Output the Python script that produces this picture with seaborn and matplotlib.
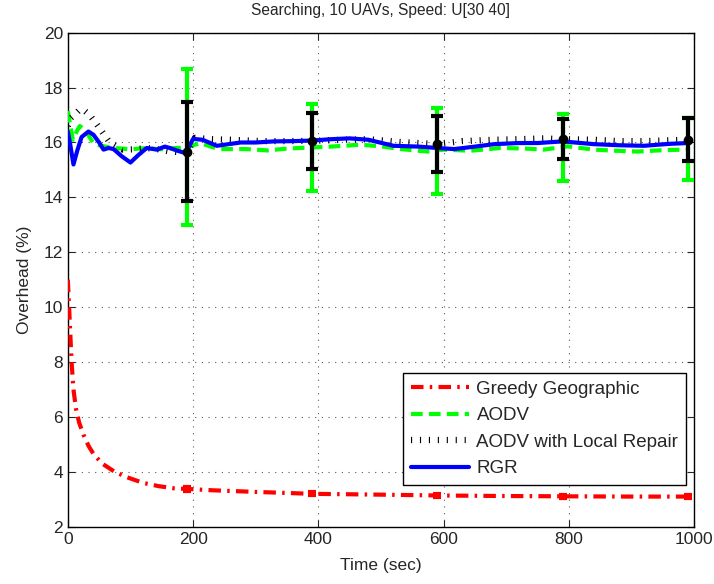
import seaborn as sns
import pandas as pd
import matplotlib.pyplot as plt

# Greedy Geographic
t_greedy = [0, 2, 4, 6, 9, 13, 18, 25, 33, 41, 55, 75, 95, 120, 145, 170, 190, 230, 300,
            390, 500, 590, 700, 790, 900, 990]
y_greedy = [11.0, 10.0, 9.0, 8.0, 7.0, 6.3, 5.8, 5.35, 4.95, 4.65, 4.3, 4.0, 3.8, 3.6, 3.48,
            3.4, 3.38, 3.33, 3.27, 3.2, 3.17, 3.14, 3.12, 3.11, 3.1, 3.1]

# AODV
t_aodv = [0, 4, 8, 14, 19, 25, 32, 40, 50, 60, 70, 85, 100, 115, 130, 145, 160, 175, 190,
          200, 212, 228, 244, 264, 284, 300, 319, 350, 390, 420, 467, 500, 532, 574, 600,
          643, 691, 730, 760, 798, 840, 875, 909, 950, 983, 990]
y_aodv = [17.15, 16.6, 16.1, 16.4, 16.6, 16.5, 16.3, 16.0, 15.9, 15.85, 15.8, 15.78, 15.75,
          15.78, 15.8, 15.75, 15.78, 15.8, 15.82, 15.9, 15.98, 15.85, 15.76, 15.76, 15.76,
          15.74, 15.71, 15.78, 15.82, 15.85, 15.92, 15.86, 15.76, 15.67, 15.74, 15.7, 15.8,
          15.78, 15.74, 15.86, 15.74, 15.7, 15.67, 15.72, 15.74, 15.75]

# AODV with Local Repair
t_aodvlr = [0, 5, 10, 19, 27, 35, 45, 56, 67, 78, 88, 105, 126, 145, 163, 180, 190, 203,
            230, 260, 310, 350, 390, 440, 480, 530, 560, 590, 630, 680, 720, 760, 790, 840,
            880, 920, 960, 990]
y_aodvlr = [16.6, 16.9, 17.0, 17.2, 17.15, 17.0, 16.7, 16.35, 16.0, 15.85, 15.74, 15.75,
            15.8, 15.75, 15.67, 15.65, 15.67, 16.17, 16.12, 16.1, 16.05, 16.05, 16.06, 16.1,
            16.12, 16.02, 15.98, 15.94, 16.05, 16.1, 16.12, 16.15, 16.12, 16.1, 16.05, 16.05,
            16.08, 16.1]

# RGR
t_rgr = [0, 4, 9, 15, 22, 33, 41, 50, 57, 65, 73, 86, 100, 113, 126, 142, 155, 163, 175,
         184, 190, 200, 215, 238, 260, 276, 300, 329, 360, 390, 420, 450, 480, 520, 560, 590,
         617, 650, 681, 720, 750, 790, 840, 880, 920, 960, 990]
y_rgr = [16.4, 15.9, 15.2, 15.7, 16.2, 16.4, 16.28, 16.0, 15.74, 15.8, 15.76, 15.5, 15.27,
         15.55, 15.8, 15.74, 15.85, 15.8, 15.7, 15.64, 15.7, 16.13, 16.1, 15.88, 15.95, 16.0,
         16.0, 16.04, 16.05, 16.07, 16.12, 16.15, 16.1, 15.88, 15.85, 15.8, 15.76, 15.85,
         15.94, 15.98, 15.98, 16.04, 15.94, 15.9, 15.88, 15.95, 15.98]

# error bars
t_err = [190, 390, 590, 790, 990]
greedy_mean = [3.38, 3.2, 3.14, 3.11, 3.1]
greedy_err = [0.06, 0.05, 0.05, 0.05, 0.05]
aodv_mean = [15.83, 15.83, 15.69, 15.83, 15.75]
aodv_err = [2.85, 1.58, 1.57, 1.22, 1.13]
aodvlr_mean = [15.67, 16.06, 15.94, 16.12, 16.1]
aodvlr_err = [1.8, 1.01, 1.01, 0.72, 0.79]

sns.set_style("ticks")
plt.rcParams['font.family'] = ['Liberation Sans', 'DejaVu Sans']

fig = plt.figure(figsize=(7.14, 5.84), dpi=100)
ax = fig.add_axes([0.095, 0.098, 0.877, 0.846])

sns.lineplot(x=t_greedy, y=y_greedy, ax=ax, color='red', lw=3, linestyle='-.',
             label='Greedy Geographic', zorder=3)
sns.lineplot(x=t_aodv, y=y_aodv, ax=ax, color='#00ff00', lw=3, linestyle='--',
             label='AODV', zorder=3)
sns.lineplot(x=t_aodvlr, y=y_aodvlr, ax=ax, color='black', lw=4.5,
             label='AODV with Local Repair', zorder=3)
sns.lineplot(x=t_rgr, y=y_rgr, ax=ax, color='blue', lw=3, linestyle='-',
             label='RGR', zorder=4)

lines = ax.get_lines()
lines[0].set_dashes([3, 1.5, 0.6, 1.5])
lines[1].set_dashes([2.8, 1.5])
lines[2].set_dashes([0.18, 1.25])
lines[2].set_dash_capstyle('butt')

ax.errorbar(t_err, greedy_mean, yerr=greedy_err, fmt='none', ecolor='red', elinewidth=3,
            capsize=3, capthick=3, zorder=5)
ax.errorbar(t_err, aodv_mean, yerr=aodv_err, fmt='none', ecolor='#00ff00', elinewidth=3,
            capsize=4, capthick=3, zorder=5)
ax.errorbar(t_err, aodvlr_mean, yerr=aodvlr_err, fmt='o', color='black', ms=6,
            ecolor='black', elinewidth=3, capsize=4, capthick=3, zorder=6)

ax.set_xlim(0, 1000)
ax.set_ylim(2, 20)
ax.set_xticks(range(0, 1001, 200))
ax.set_yticks(range(2, 21, 2))
ax.tick_params(direction='in', top=True, right=True, labelsize=12.5, length=5)
ax.grid(True, linestyle=(0, (1, 5)), color='0.35', lw=0.8)
for s in ax.spines.values():
    s.set_linewidth(1)
    s.set_color('black')

ax.set_title('Searching, 10 UAVs, Speed: U[30 40]', fontsize=11.2, pad=13)
ax.set_xlabel('Time (sec)', fontsize=12.5, labelpad=8)
ax.set_ylabel('Overhead (%)', fontsize=12.5, labelpad=8)

leg = ax.legend(loc='lower right', bbox_to_anchor=(0.987, 0.085), borderaxespad=0,
                fontsize=13.5, fancybox=False, framealpha=1, edgecolor='black',
                handlelength=3.1, handletextpad=0.4, labelspacing=0.5)
leg.get_frame().set_linewidth(1)

fig.savefig('out.png', dpi=100)
